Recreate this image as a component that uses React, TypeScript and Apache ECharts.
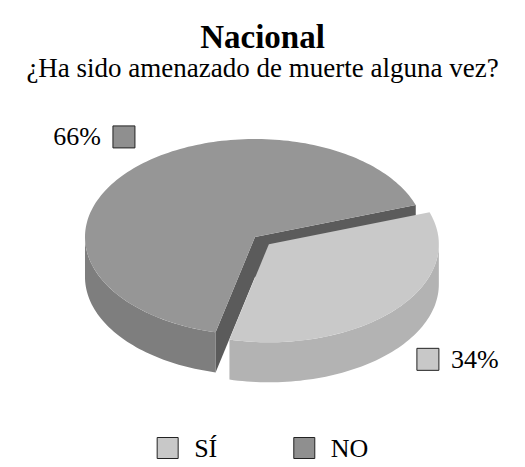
import React, { useEffect, useRef } from 'react';
import * as echarts from 'echarts';

// ---- data ----
const categories = ['SÍ', 'NO'];
const values = [34, 66];
const titleText = 'Nacional';
const subtitleText = '¿Ha sido amenazado de muerte alguna vez?';

// ---- styles ----
const topColors = ['#c9c9c9', '#969696'];
const wallColors = ['#b3b3b3', '#7e7e7e'];
const faceColors = ['#a5a5a5', '#5b5b5b'];
const keyColors = ['#c8c8c8', '#8f8f8f'];
const explodeRatio = [0.11, 0];

const FONT = "'Liberation Serif', 'Times New Roman', serif";
const START_ANGLE = 19;

const total = values.reduce((a, b) => a + b, 0);

function sliceAngles(i: number): [number, number] {
  let before = 0;
  for (let k = 0; k < i; k++) before += values[k];
  const a0 = START_ANGLE - (360 * before) / total;
  const a1 = a0 - (360 * values[i]) / total;
  return [a0, a1];
}

function makeRenderItem(i: number) {
  return (params: any, api: any) => {
    const W = api.getWidth();
    const H = api.getHeight();
    const cx0 = W * 0.4857;
    const cy0 = H * 0.5075;
    const rx = W * 0.3238;
    const ry = H * 0.2099;
    const h = H * 0.0857;
    const v = api.value(0);
    const [a0, a1] = sliceAngles(i);
    const midDeg = (a0 + a1) / 2;
    const mid = (midDeg * Math.PI) / 180;
    const e = explodeRatio[i];
    const cx = cx0 + rx * e * Math.cos(mid);
    const cy = cy0 - ry * e * Math.sin(mid);
    const P = (deg: number, dy = 0) => {
      const t = (deg * Math.PI) / 180;
      return [cx + rx * Math.cos(t), cy - ry * Math.sin(t) + dy];
    };
    const arc = (from: number, to: number, dy = 0) => {
      const n = Math.max(2, Math.ceil(Math.abs(to - from) / 1.5));
      const pts: number[][] = [];
      for (let k = 0; k <= n; k++) pts.push(P(from + ((to - from) * k) / n, dy));
      return pts;
    };
    const children: any[] = [];
    // outer wall (front-facing part only)
    for (let k = -2; k <= 1; k++) {
      const lo = Math.max(a1, 180 + 360 * k);
      const hi = Math.min(a0, 360 + 360 * k);
      if (lo < hi) {
        children.push({
          type: 'polygon',
          shape: { points: [...arc(lo, hi), ...arc(hi, lo, h)] },
          style: { fill: wallColors[i] },
        });
      }
    }
    // radial faces
    const face = (deg: number) => {
      const p = P(deg);
      const q = P(deg, h);
      return {
        type: 'polygon',
        shape: { points: [[cx, cy], p, q, [cx, cy + h]] },
        style: { fill: faceColors[i] },
      };
    };
    if (Math.cos((a0 * Math.PI) / 180) < 0) children.push(face(a0));
    if (Math.cos((a1 * Math.PI) / 180) > 0) children.push(face(a1));
    // top face
    children.push({
      type: 'polygon',
      shape: { points: [[cx, cy], ...arc(a0, a1)] },
      style: { fill: topColors[i] },
    });
    // label with key square
    const front = Math.sin(mid) < 0;
    const ax = cx + rx * 1.39 * Math.cos(mid) + 14;
    const ay = cy - ry * 1.52 * Math.sin(mid) + (front ? h * 0.375 : 0);
    const pct = Math.round((v / total) * 100) + '%';
    const left = Math.cos(mid) < 0;
    const sq = 22;
    children.push({
      type: 'rect',
      shape: { x: left ? ax + 19 : ax - 41, y: ay - sq / 2, width: sq, height: sq },
      style: { fill: keyColors[i], stroke: '#222', lineWidth: 1 },
    });
    children.push({
      type: 'text',
      style: {
        text: pct,
        x: left ? ax + 7 : ax - 7,
        y: ay,
        fill: '#000',
        fontSize: 26,
        fontFamily: FONT,
        align: left ? 'right' : 'left',
        verticalAlign: 'middle',
      },
    });
    return { type: 'group', children };
  };
}

export default function App() {
  const ref = useRef<HTMLDivElement>(null);
  useEffect(() => {
    document.body.style.margin = '0';
    const chart = echarts.init(ref.current!, null, { renderer: 'svg' });
    const option: any = {
      animation: false,
      backgroundColor: '#fff',
      title: {
        text: titleText,
        subtext: subtitleText,
        left: 'center',
        top: 20,
        padding: 0,
        itemGap: 1,
        textStyle: { fontSize: 33, fontWeight: 'bold', fontFamily: FONT, color: '#000' },
        subtextStyle: { fontSize: 27, fontFamily: FONT, color: '#000' },
      },
      legend: {
        data: categories,
        left: 'center',
        top: 430,
        icon: 'rect',
        itemWidth: 21,
        itemHeight: 21,
        itemGap: 76,
        selectedMode: false,
        itemStyle: { borderColor: '#222', borderWidth: 1 },
        textStyle: { fontSize: 26, fontFamily: FONT, color: '#000', padding: [0, 0, 0, 11] },
      },
      series: categories.map((name, i) => ({
        type: 'custom',
        name,
        coordinateSystem: 'none',
        silent: true,
        z: i === 0 ? 3 : 2,
        itemStyle: { color: keyColors[i], borderColor: '#222', borderWidth: 1 },
        data: [[values[i]]],
        renderItem: makeRenderItem(i),
      })),
    };
    chart.setOption(option);
    return () => chart.dispose();
  }, []);
  return <div ref={ref} style={{ width: 525, height: 467 }} />;
}
